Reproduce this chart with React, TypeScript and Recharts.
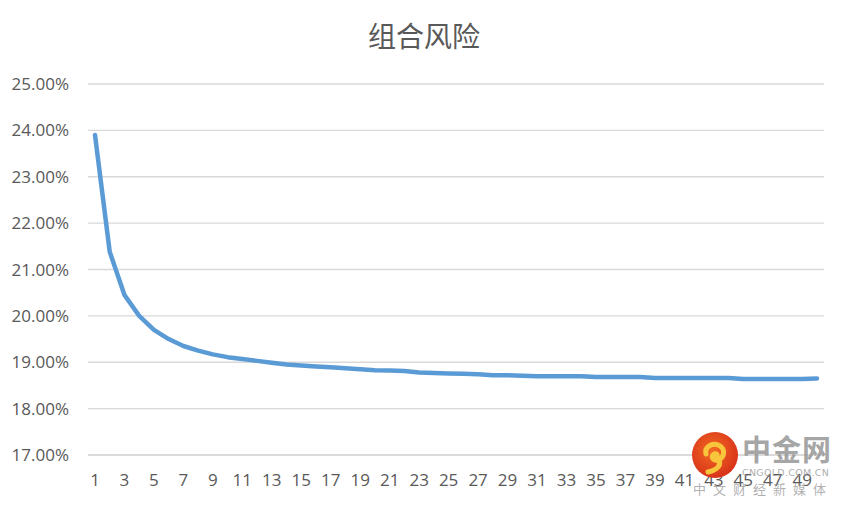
import React from "react";
import { LineChart, Line, XAxis, YAxis, CartesianGrid } from "recharts";

// 组合风险 vs number of assets (values in %)
const periods: number[] = Array.from({ length: 50 }, (_, i) => i + 1);
const riskValues: number[] = [
  23.9, 21.38, 20.45, 20.0, 19.7, 19.5, 19.35, 19.25, 19.17, 19.11,
  19.07, 19.03, 18.99, 18.95, 18.93, 18.91, 18.89, 18.87, 18.85, 18.83,
  18.82, 18.81, 18.78, 18.77, 18.76, 18.75, 18.74, 18.72, 18.72, 18.71,
  18.7, 18.7, 18.7, 18.7, 18.68, 18.68, 18.68, 18.68, 18.66, 18.66,
  18.66, 18.66, 18.66, 18.66, 18.64, 18.64, 18.64, 18.64, 18.64, 18.65,
];
const yTicks: number[] = [17, 18, 19, 20, 21, 22, 23, 24, 25];

const data = periods.map((p, i) => ({ x: p, risk: riskValues[i] }));

const tickStyle = { fill: "#595959", fontSize: 17, fontFamily: "Open Sans" };

const Watermark: React.FC = () => (
  <div style={{ position: "absolute", left: 690, top: 430, width: 158, height: 72, pointerEvents: "none" }}>
    <svg width={52} height={52} style={{ position: "absolute", left: 2, top: 2 }}>
      <defs>
        <radialGradient id="wmg" cx="45%" cy="40%" r="60%">
          <stop offset="0%" stopColor="#F26B22" />
          <stop offset="100%" stopColor="#D8321A" />
        </radialGradient>
      </defs>
      <circle cx={23} cy={23} r={23} fill="url(#wmg)" />
      <path
        d="M14 22 C12 14 22 10 28 14 C34 18 32 26 26 28 C22 29 19 26 21 23 C23 21 26 22 25 24 M26 28 C30 32 26 38 16 40"
        fill="none"
        stroke="#F8C63C"
        strokeWidth={5}
        strokeLinecap="round"
      />
    </svg>
    <div
      style={{
        position: "absolute",
        left: 52,
        top: 2,
        fontFamily: "Noto Sans CJK SC",
        fontWeight: 700,
        fontSize: 29,
        lineHeight: "32px",
        color: "rgba(150,150,150,0.85)",
        letterSpacing: 1,
      }}
    >
      中金网
    </div>
    <div
      style={{
        position: "absolute",
        left: 52,
        top: 37,
        fontFamily: "DejaVu Sans",
        fontSize: 9.5,
        color: "rgba(150,150,150,0.8)",
        letterSpacing: 0.3,
      }}
    >
      CNGOLD.COM.CN
    </div>
    <div
      style={{
        position: "absolute",
        left: 3,
        top: 49,
        fontFamily: "Noto Sans CJK SC",
        fontSize: 13,
        color: "rgba(150,150,150,0.75)",
        letterSpacing: 7,
        whiteSpace: "nowrap",
      }}
    >
      中文财经新媒体
    </div>
  </div>
);

const App: React.FC = () => {
  return (
    <div style={{ position: "absolute", left: 0, top: 0, width: 848, height: 505, background: "#fff" }}>
      <div
        style={{
          position: "absolute",
          left: 0,
          top: 15,
          width: 848,
          textAlign: "center",
          fontFamily: "Noto Sans CJK SC",
          fontSize: 28,
          lineHeight: "40px",
          color: "#595959",
        }}
      >
        组合风险
      </div>
      <LineChart width={848} height={505} data={data} margin={{ top: 84, right: 24, left: 0, bottom: 20 }}>
        <CartesianGrid vertical={false} stroke="#D9D9D9" strokeWidth={1.3} />
        <XAxis
          dataKey="x"
          interval={1}
          tickLine={false}
          axisLine={{ stroke: "#D9D9D9", strokeWidth: 1.3 }}
          tick={tickStyle}
          tickMargin={13}
          height={30}
          padding={{ left: 7, right: 7 }}
        />
        <YAxis
          domain={[17, 25]}
          ticks={yTicks}
          tickFormatter={(v: number) => `${v.toFixed(2)}%`}
          tickLine={false}
          axisLine={false}
          tick={tickStyle}
          tickMargin={13}
          width={88}
        />
        <Line
          type="linear"
          dataKey="risk"
          stroke="#5B9BD5"
          strokeWidth={4.5}
          strokeLinecap="round"
          strokeLinejoin="round"
          dot={false}
          isAnimationActive={false}
        />
      </LineChart>
      <Watermark />
    </div>
  );
};

export default App;
